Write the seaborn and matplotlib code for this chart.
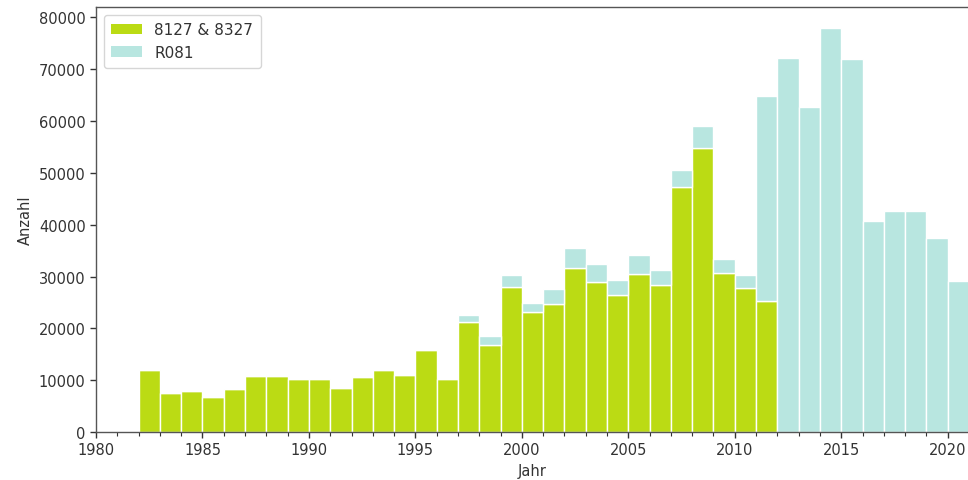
import matplotlib.pyplot as plt
import pandas as pd
import seaborn as sns
from matplotlib.patches import Patch

years = list(range(1982, 2021))
green_vals = [
    12000, 7450, 8000, 6800, 8300, 10800, 10800, 10150, 10150, 8400,
    10700, 12000, 11000, 15900, 10200, 21300, 16800, 28000, 23200, 24700,
    31600, 28900, 26500, 30400, 28300, 47300, 54700, 30700, 27700, 25300,
    0, 0, 0, 0, 0, 0, 0, 0, 0,
]
total_vals = [
    12000, 7450, 8000, 6800, 8300, 10800, 10800, 10150, 10150, 8400,
    10700, 12000, 11000, 15900, 10200, 22500, 18600, 30300, 24900, 27600,
    35500, 32400, 29400, 34200, 31200, 50500, 59000, 33300, 30300, 64900,
    72200, 62800, 77900, 71900, 40800, 42600, 42600, 37500, 29100,
]
r081_vals = [t - g for t, g in zip(total_vals, green_vals)]
labels = ['8127 & 8327', 'R081']
colors = ['#bbdb14', '#b8e6e0']

df = pd.concat([
    pd.DataFrame({'Jahr': years, 'Anzahl': green_vals, 'Quelle': labels[0]}),
    pd.DataFrame({'Jahr': years, 'Anzahl': r081_vals, 'Quelle': labels[1]}),
])

sns.set_style("ticks")
plt.rcParams['font.family'] = ['DejaVu Sans']
plt.rc('font', size=10.5)
text_col = '#333333'
plt.rc('text', color=text_col)
plt.rc('axes', labelcolor=text_col, edgecolor='#555555', linewidth=1.0)
plt.rc('xtick', color='#333333', labelsize=10.5)
plt.rc('ytick', color='#333333', labelsize=10.5)

fig = plt.figure(figsize=(9.68, 4.81), dpi=100)
ax = fig.add_axes([96 / 968, 48 / 481, 873 / 968, 425 / 481])

# stacked histogram weighted by yearly counts (first hue level ends on top)
sns.histplot(
    data=df,
    x='Jahr',
    weights='Anzahl',
    hue='Quelle',
    hue_order=labels[::-1],
    palette=dict(zip(labels, colors)),
    multiple='stack',
    binwidth=1,
    binrange=(1982, 2021),
    edgecolor='white',
    linewidth=1.0,
    alpha=1,
    legend=False,
    ax=ax,
)

ax.set_xlim(1980, 2021)
ax.set_ylim(0, 82000)
ax.set_xticks(range(1980, 2021, 5))
ax.set_xticks(range(1980, 2022), minor=True)
ax.set_yticks(range(0, 80001, 10000))
ax.tick_params(axis='both', which='major', length=4, width=1)
ax.tick_params(axis='x', which='minor', length=3, width=0.8)
ax.set_xlabel('Jahr')
ax.set_ylabel('Anzahl')
for side in ['top', 'right']:
    ax.spines[side].set_visible(True)

handles = [Patch(facecolor=c, edgecolor='none') for c in colors]
ax.legend(
    handles, labels, loc='upper left', frameon=True, fancybox=True,
    edgecolor='#cccccc', framealpha=0.8, fontsize=11,
    handlelength=2.0, borderpad=0.5,
)

fig.savefig('out.png', dpi=100)
plt.close(fig)
